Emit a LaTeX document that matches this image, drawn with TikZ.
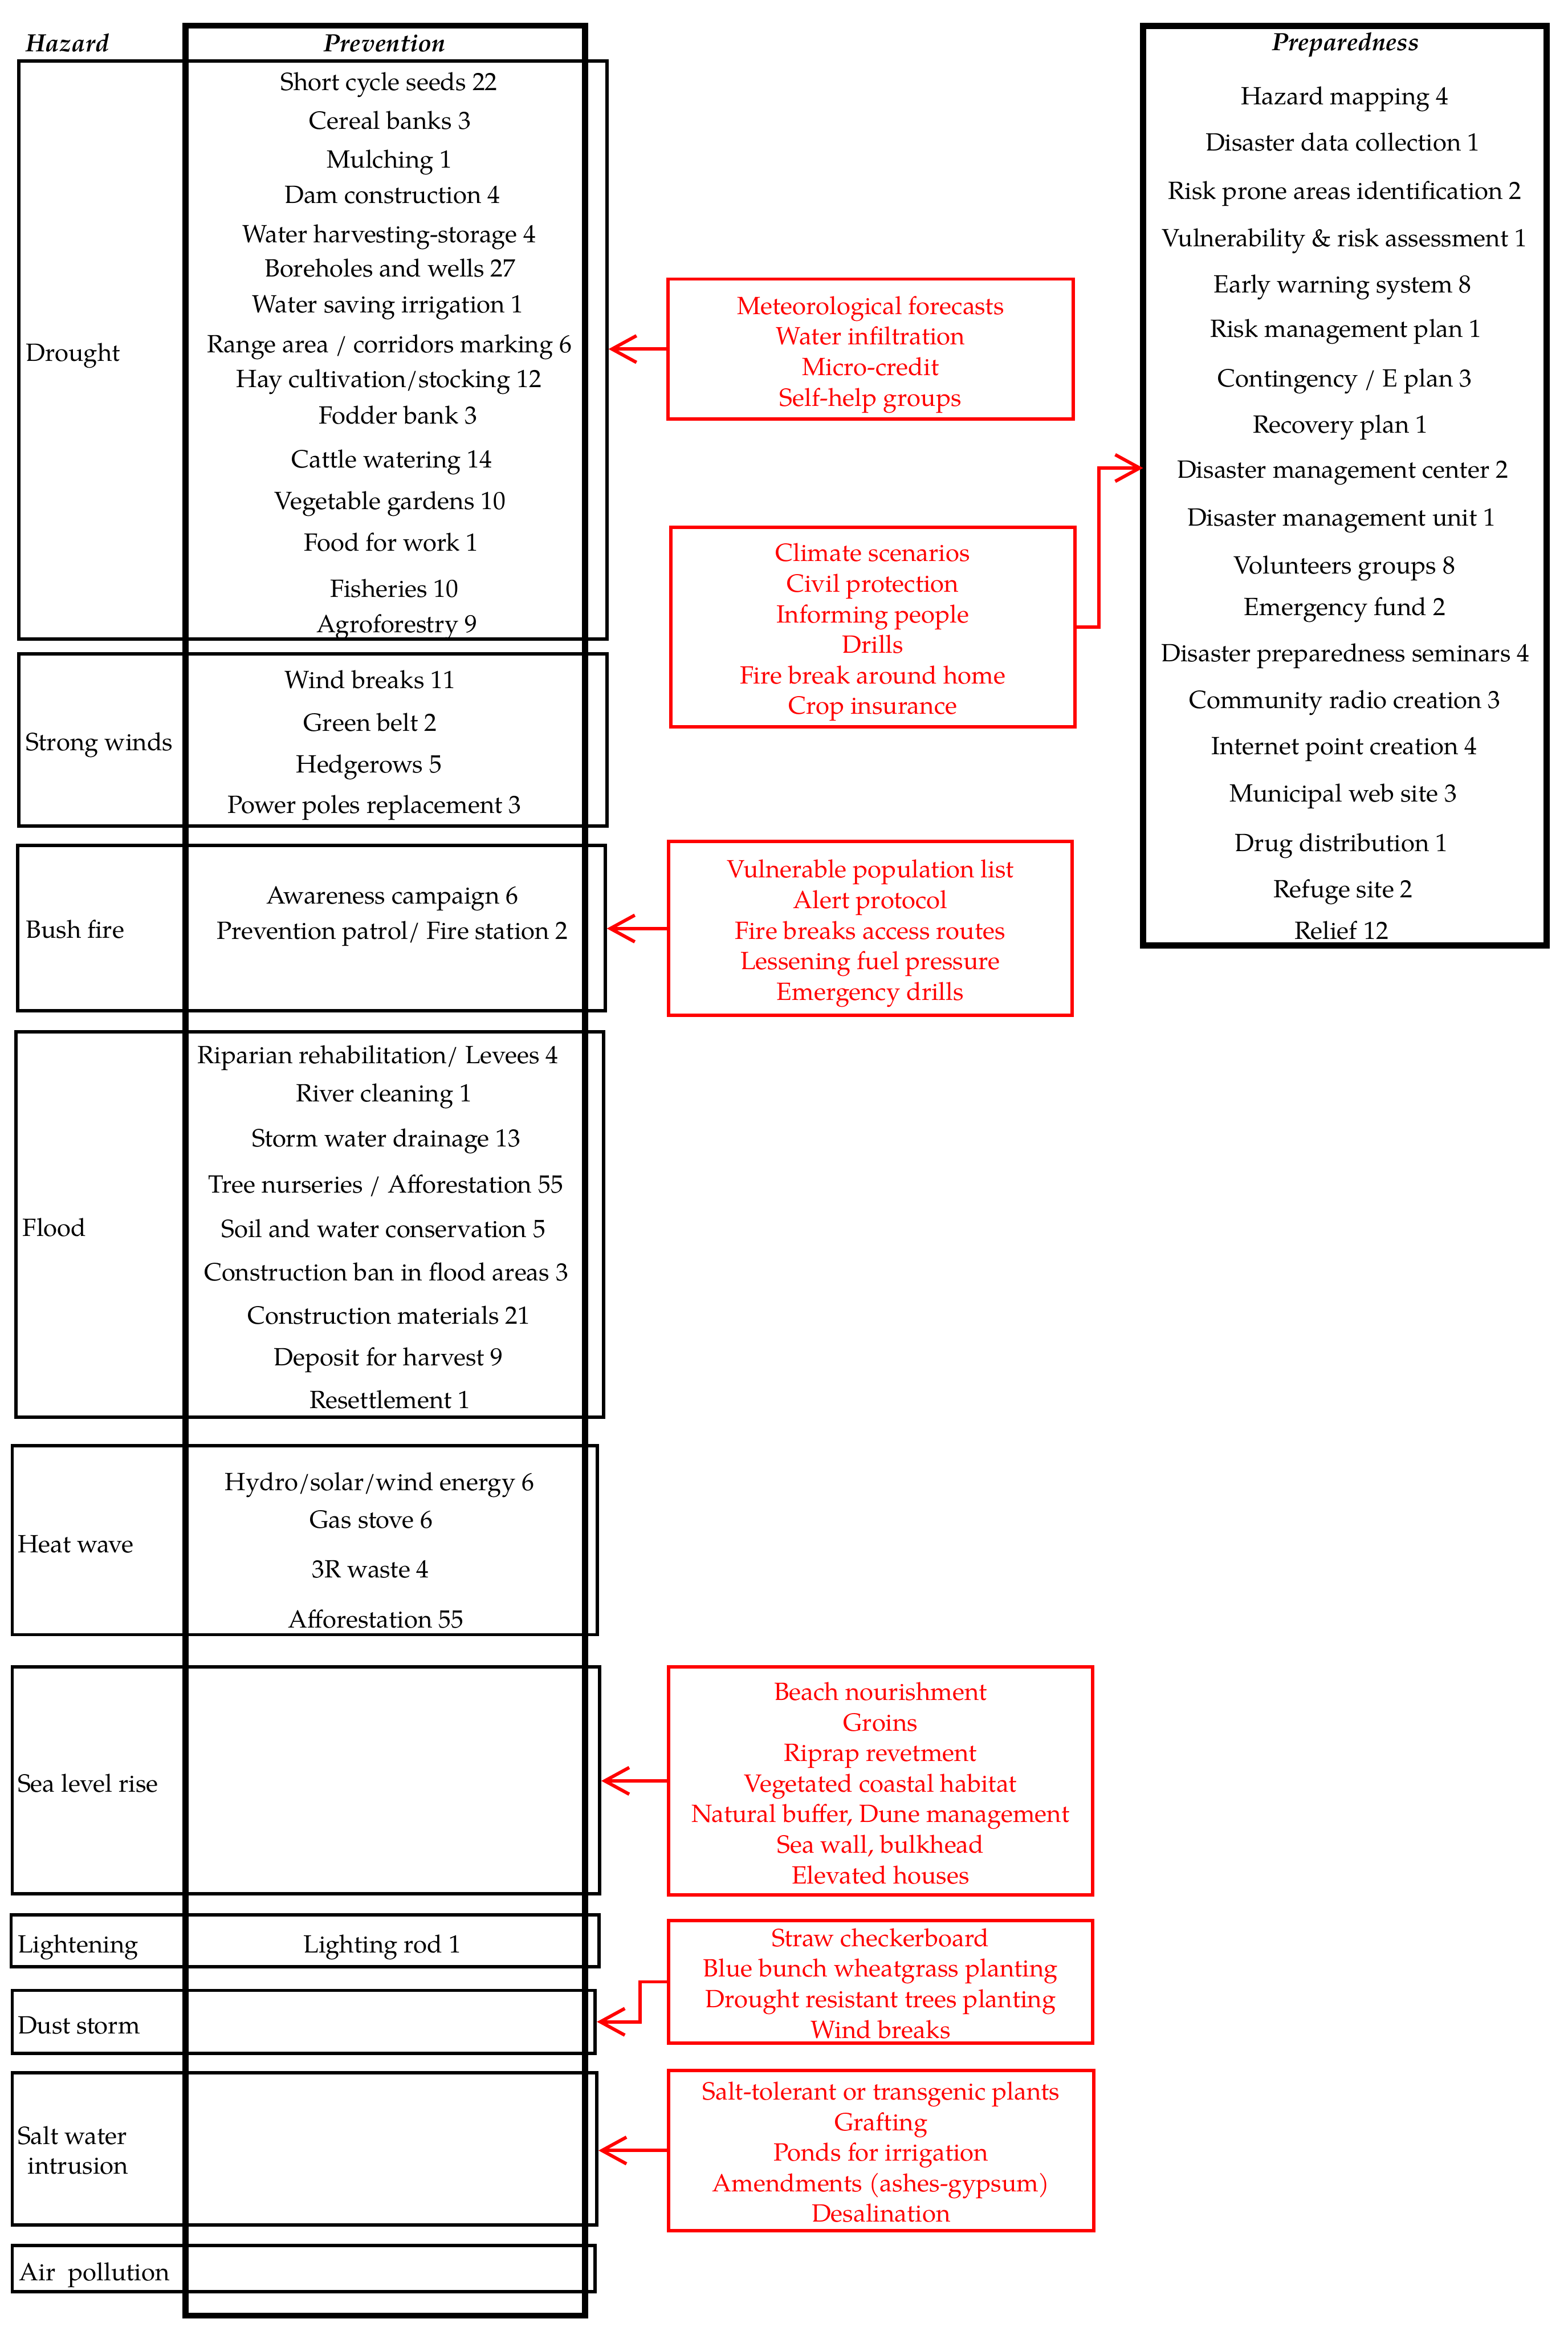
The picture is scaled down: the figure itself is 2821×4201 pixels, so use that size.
\documentclass[tikz,border=0pt]{standalone}
\usepackage{fontspec}
\setmainfont{TeX Gyre Pagella}
\usetikzlibrary{arrows.meta,fit}
\newcommand\itm[4]{\node[item] (#1) at (#2,{#3+16}) {#4};}
\newcommand\hlab[4]{\node[lab] (#1) at (#2,{#3+16}) {#4};}
\begin{document}
\begin{tikzpicture}[x=0.25pt,y=-0.25pt,
  hbox/.style={draw=black,line width=1.5pt,inner sep=0pt},
  colbox/.style={draw=black,line width=2.75pt,inner sep=0pt},
  item/.style={anchor=base,inner sep=0pt,font=\fontsize{11.2}{13}\selectfont},
  lab/.style={anchor=base west,inner sep=0pt,align=left,font=\fontsize{11.2}{13.25}\selectfont},
  head/.style={anchor=base,inner sep=0pt,font=\fontsize{11.2}{13}\selectfont\bfseries\itshape},
  rbox/.style={draw=red,line width=1.5pt,inner sep=0pt},
  rtext/.style={text=red,align=center,inner sep=0pt,font=\fontsize{11.2}{13.75}\selectfont},
  rarr/.style={draw=red,line width=1.5pt,-{Straight Barb[length=11pt,width=12pt]}},
]
\useasboundingbox (0,0) rectangle (2821,4201);

% hazard boxes
\node[hbox,fit={(34,110)(1092,1150)}] (drought) {};
\node[hbox,fit={(34,1176)(1092,1486)}] (winds) {};
\node[hbox,fit={(32,1521)(1089,1818)}] (bush) {};
\node[hbox,fit={(29,1856)(1086,2550)}] (flood) {};
\node[hbox,fit={(22,2601)(1075,2941)}] (heat) {};
\node[hbox,fit={(22,2999)(1079,3407)}] (sea) {};
\node[hbox,fit={(20,3445)(1078,3538)}] (light) {};
\node[hbox,fit={(22,3581)(1071,3694)}] (dust) {};
\node[hbox,fit={(22,3729)(1074,4003)}] (salt) {};
\node[hbox,fit={(22,4040)(1071,4123)}] (air) {};

% column boxes
\node[colbox,fit={(334,46)(1053,4166)}] (prev) {};
\node[colbox,fit={(2057,47)(2783,1701)}] (prep) {};

% headers
\node[head,anchor=base west] (hhaz) at (46,93) {Hazard};
\node[head] (hprev) at (692,93) {Prevention};
\node[head] (hprep) at (2421,91) {Preparedness};

% hazard labels
\hlab{ldrought}{46}{634}{Drought}
\hlab{lwinds}{46}{1334}{Strong winds}
\hlab{lbush}{46}{1672}{Bush fire}
\hlab{lflood}{40}{2208}{Flood}
\hlab{lheat}{31}{2777}{Heat wave}
\hlab{lsea}{31}{3208}{Sea level rise}
\hlab{llight}{31}{3497}{Lightening}
\hlab{ldust}{31}{3643}{Dust storm}
\hlab{lsalt}{31}{3895}{Salt water\\\hspace{4.5pt}intrusion}
\hlab{lair}{34}{4087}{Air\enspace pollution}

% drought prevention
\itm{d1}{700}{147}{Short cycle seeds 22}
\itm{d2}{702}{216}{Cereal banks 3}
\itm{d3}{701}{286}{Mulching 1}
\itm{d4}{706}{350}{Dam construction 4}
\itm{d5}{700}{420}{Water harvesting-storage 4}
\itm{d6}{702}{482}{Boreholes and wells 27}
\itm{d7}{698}{547}{Water saving irrigation 1}
\itm{d8}{701}{618}{Range area / corridors marking 6}
\itm{d9}{700}{681}{Hay cultivation/stocking 12}
\itm{d10}{716}{747}{Fodder bank 3}
\itm{d11}{705}{825}{Cattle watering 14}
\itm{d12}{702}{900}{Vegetable gardens 10}
\itm{d13}{704}{975}{Food for work 1}
\itm{d14}{710}{1058}{Fisheries 10}
\itm{d15}{714}{1122}{Agroforestry 9}

% strong winds
\itm{w1}{666}{1222}{Wind breaks 11}
\itm{w2}{666}{1299}{Green belt 2}
\itm{w3}{664}{1374}{Hedgerows 5}
\itm{w4}{674}{1447}{Power poles replacement 3}

% bush fire
\itm{b1}{706}{1610}{Awareness campaign 6}
\itm{b2}{706}{1674}{Prevention patrol/ Fire station 2}

% flood
\itm{f1}{680}{1897}{Riparian rehabilitation/ Levees 4}
\itm{f2}{691}{1966}{River cleaning 1}
\itm{f3}{695}{2047}{Storm water drainage 13}
\itm{f4}{694}{2130}{Tree nurseries / Afforestation 55}
\itm{f5}{690}{2210}{Soil and water conservation 5}
\itm{f6}{695}{2288}{Construction ban in flood areas 3}
\itm{f7}{700}{2366}{Construction materials 21}
\itm{f8}{699}{2441}{Deposit for harvest 9}
\itm{f9}{702}{2518}{Resettlement 1}

% heat wave
\itm{h1}{683}{2665}{Hydro/solar/wind energy 6}
\itm{h2}{668}{2733}{Gas stove 6}
\itm{h3}{667}{2822}{3R waste 4}
\itm{h4}{676}{2913}{Afforestation 55}

% lightening
\itm{l1}{688}{3497}{Lighting rod 1}

% preparedness
\itm{p1}{2420}{172}{Hazard mapping 4}
\itm{p2}{2416}{255}{Disaster data collection 1}
\itm{p3}{2420}{342}{Risk prone areas identification 2}
\itm{p4}{2419}{428}{Vulnerability \& risk assessment 1}
\itm{p5}{2416}{511}{Early warning system 8}
\itm{p6}{2422}{591}{Risk management plan 1}
\itm{p7}{2420}{680}{Contingency / E plan 3}
\itm{p8}{2412}{763}{Recovery plan 1}
\itm{p9}{2416}{844}{Disaster management center 2}
\itm{p10}{2414}{930}{Disaster management unit 1}
\itm{p11}{2419}{1016}{Volunteers groups 8}
\itm{p12}{2420}{1091}{Emergency fund 2}
\itm{p13}{2421}{1174}{Disaster preparedness seminars 4}
\itm{p14}{2420}{1258}{Community radio creation 3}
\itm{p15}{2419}{1341}{Internet point creation 4}
\itm{p16}{2417}{1427}{Municipal web site 3}
\itm{p17}{2414}{1516}{Drug distribution 1}
\itm{p18}{2417}{1599}{Refuge site 2}
\itm{p19}{2414}{1674}{Relief 12}

% red boxes
\node[rbox,minimum width=182.25pt,minimum height=63pt] (met) at (1566.5,628) {};
\node[rtext] (mett) at ([yshift=-2.5pt]met.center)
  {Meteorological forecasts\\Water infiltration\\Micro-credit\\Self-help groups};
\node[rbox,minimum width=181.75pt,minimum height=89.75pt] (clim) at (1570.5,1128.5) {};
\node[rtext] (climt) at ([yshift=-2.25pt]clim.center)
  {Climate scenarios\\Civil protection\\Informing people\\Drills\\Fire break around home\\Crop insurance};
\node[rbox,minimum width=181.5pt,minimum height=78.25pt] (bushr) at (1566,1670.5) {};
\node[rtext] (bushrt) at ([yshift=-2.25pt]bushr.center)
  {Vulnerable population list\\Alert protocol\\Fire breaks access routes\\Lessening fuel pressure\\Emergency drills};
\node[rbox,minimum width=190.75pt,minimum height=102.5pt] (sear) at (1584.5,3204) {};
\node[rtext] (seart) at ([yshift=-1pt]sear.center)
  {Beach nourishment\\Groins\\Riprap revetment\\Vegetated coastal habitat\\Natural buffer, Dune management\\Sea wall, bulkhead\\Elevated houses};
\node[rbox,minimum width=190.75pt,minimum height=55.25pt] (dustr) at (1584.5,3565.5) {};
\node[rtext] (dustrt) at ([yshift=-0.75pt]dustr.center)
  {Straw checkerboard\\Blue bunch wheatgrass planting\\Drought resistant trees planting\\Wind breaks};
\node[rbox,minimum width=191.25pt,minimum height=72pt] (saltr) at (1585.5,3869) {};
\node[rtext] (saltrt) at ([yshift=-0.75pt]saltr.center)
  {Salt-tolerant or transgenic plants\\Grafting\\Ponds for irrigation\\Amendments (ashes-gypsum)\\Desalination};

% connectors
\coordinate (prepin) at (2057,842);
\draw[rarr] (met.west) -- (met.west -| drought.east);
\draw[rarr] (clim.east) -- ++(40,0) |- (prepin);
\draw[rarr] (bushr.west) -- (bushr.west -| bush.east);
\draw[rarr] (sear.west) -- (sear.west -| sea.east);
\draw[rarr] (dustr.west) -- ++(-48,0) |- (dust.east);
\draw[rarr] (saltr.west) -- (saltr.west -| salt.east);
\end{tikzpicture}
\end{document}
